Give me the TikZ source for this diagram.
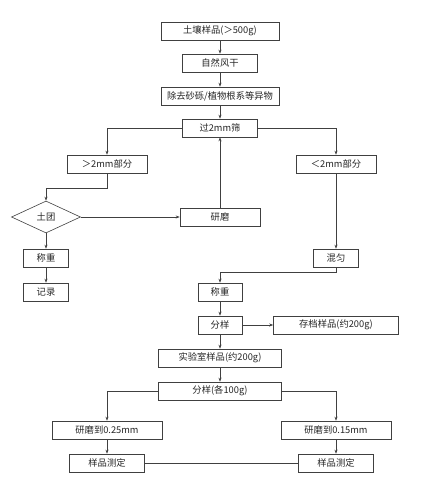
\documentclass[tikz,border=0pt]{standalone}
\usepackage{fontspec}
\newfontfamily\cjk{Noto Sans CJK SC}
\usetikzlibrary{shapes.geometric,arrows.meta}
\begin{document}
\begin{tikzpicture}[x=1pt,y=-1pt,
    kuang/.style={draw=black!75, line width=0.6pt, minimum height=18pt, inner sep=0pt,
        font=\cjk\fontsize{9.3}{10}\selectfont, text=black!85},
    lingxing/.style={kuang, diamond, minimum width=69pt, minimum height=32pt},
    xian/.style={draw=black!75, line width=0.6pt, -{Stealth[length=4pt,width=3pt]}},
    lian/.style={draw=black!75, line width=0.6pt}]
    \def\zX{220}
    \def\lX{107}
    \def\rX{336}
    \def\dX{46}
    \useasboundingbox[fill=white] (0,0) rectangle (421,486);
    % 主干
    \node[kuang, minimum width=118pt] (tr) at (\zX,31) {土壤样品(＞500g)};
    \node[kuang, minimum width=75pt] (fg) at (\zX,63) {自然风干};
    \node[kuang, minimum width=118pt] (cq) at (\zX,96) {除去砂砾/植物根系等异物};
    \node[kuang, minimum width=75pt] (gs) at (\zX,128) {过2mm筛};
    % 左右两支
    \node[kuang, minimum width=80pt] (dy) at (\lX,164) {＞2mm部分};
    \node[kuang, minimum width=80pt] (xy) at (\rX,164) {＜2mm部分};
    \node[lingxing] (tt) at (\dX,217) {土团};
    \node[kuang, minimum width=80pt] (ym) at (\zX,217) {研磨};
    \node[kuang, minimum width=45pt] (czL) at (\dX,258) {称重};
    \node[kuang, minimum width=45pt] (jl) at (\dX,292) {记录};
    \node[kuang, minimum width=45pt] (hy) at (\rX,258) {混匀};
    % 分样
    \node[kuang, minimum width=44pt] (czM) at (\zX,292) {称重};
    \node[kuang, minimum width=44pt] (fy) at (\zX,325) {分样};
    \node[kuang, minimum width=125pt] (cd) at (\rX,325) {存档样品(约200g)};
    \node[kuang, minimum width=123pt] (sy) at (\zX,358) {实验室样品(约200g)};
    \node[kuang, minimum width=123pt] (fg2) at (\zX,391) {分样(各100g)};
    \node[kuang, minimum width=110pt] (ymA) at (\lX,430) {研磨到0.25mm};
    \node[kuang, minimum width=110pt] (ymB) at (\rX,430) {研磨到0.15mm};
    \node[kuang, minimum width=75pt] (cdA) at (\lX,463) {样品测定};
    \node[kuang, minimum width=75pt] (cdB) at (\rX,463) {样品测定};
    % 连线
    \draw[xian] (tr) -- (fg);
    \draw[xian] (fg) -- (cq);
    \draw[xian] (cq) -- (gs);
    \draw[xian] (gs.west) -| (dy.north);
    \draw[xian] (gs.east) -| (xy.north);
    \draw[xian] (dy.south) |- (\dX,188) -- (tt.north);
    \draw[xian] (tt.east) -- (ym.west);
    \draw[xian] (ym.north) -- (gs.south);
    \draw[xian] (tt.south) -- (czL.north);
    \draw[xian] (czL) -- (jl);
    \draw[xian] (xy.south) -- (hy.north);
    \draw[xian] (hy.south) |- (\zX,272) -- (czM.north);
    \draw[xian] (czM) -- (fy);
    \draw[xian] (fy.east) -- (cd.west);
    \draw[xian] (fy) -- (sy);
    \draw[xian] (sy) -- (fg2);
    \draw[xian] (fg2.west) -| (ymA.north);
    \draw[xian] (fg2.east) -| (ymB.north);
    \draw[xian] (ymA) -- (cdA);
    \draw[xian] (ymB) -- (cdB);
    \draw[lian] (cdA.east) -- (cdB.west);
\end{tikzpicture}
\end{document}
